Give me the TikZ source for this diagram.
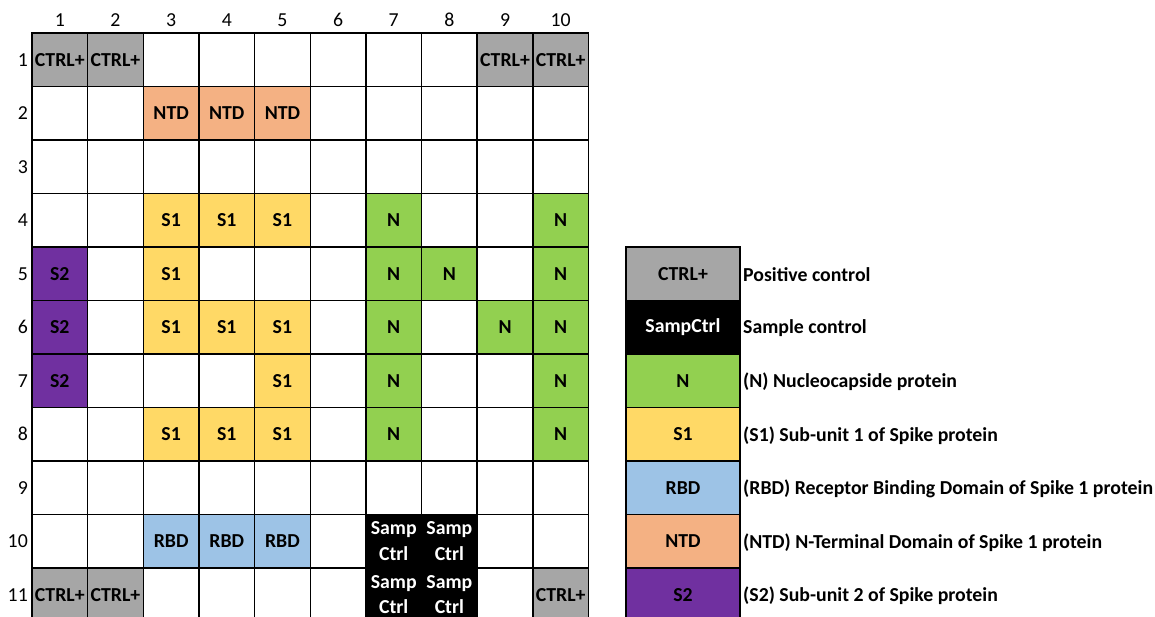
\documentclass[tikz,border=0pt]{standalone}
\usepackage{fontspec}
\setmainfont{Carlito}
\definecolor{ctrlgray}{HTML}{A6A6A6}
\definecolor{ntdc}{HTML}{F4B183}
\definecolor{s1c}{HTML}{FFD966}
\definecolor{nc}{HTML}{92D050}
\definecolor{rbdc}{HTML}{9DC3E6}
\definecolor{s2c}{HTML}{7030A0}
\begin{document}
\begin{tikzpicture}[x=1pt,y=-1pt,
  cellbox/.style={draw=black,line width=1.5pt,minimum width=55.65pt,minimum height=53.5pt,inner sep=0pt,anchor=center,font=\fontsize{19.8}{25.5}\selectfont\bfseries,align=center},
  ctrlcell/.style={cellbox,fill=ctrlgray},
  ntdcell/.style={cellbox,fill=ntdc},
  s1cell/.style={cellbox,fill=s1c},
  ncell/.style={cellbox,fill=nc},
  rbdcell/.style={cellbox,fill=rbdc},
  s2cell/.style={cellbox,fill=s2c},
  sampcell/.style={cellbox,fill=black,text=white},
  legbox/.style={cellbox,minimum width=114pt},
  legtext/.style={anchor=west,inner sep=0pt,font=\fontsize{19.8}{24}\selectfont\bfseries},
  axlabel/.style={inner sep=0pt,font=\fontsize{19.8}{24}\selectfont}
]
\clip (0,0) rectangle (1155,616);
\fill[white] (0,0) rectangle (1155,616);
% axis labels
\foreach \c in {1,...,10}
  \node[axlabel] (col\c) at ({32+55.65*(\c-0.5)},20) {\c};
\foreach \r in {1,...,11}
  \node[axlabel,anchor=east] (row\r) at (28,{33+53.5*(\r-0.5)}) {\r};
% empty grid
\foreach \r in {1,...,11}
  \foreach \c in {1,...,10}
    \node[cellbox] (g-\r-\c) at ({32+55.65*(\c-0.5)},{33+53.5*(\r-0.5)}) {};
% row 1
\node[ctrlcell] (w-1-1) at (g-1-1) {CTRL+};
\node[ctrlcell] (w-1-2) at (g-1-2) {CTRL+};
\node[ctrlcell] (w-1-9) at (g-1-9) {CTRL+};
\node[ctrlcell] (w-1-10) at (g-1-10) {CTRL+};
% row 2
\foreach \c in {3,4,5} \node[ntdcell] (w-2-\c) at (g-2-\c) {NTD};
% row 4
\foreach \c in {3,4,5} \node[s1cell] (w-4-\c) at (g-4-\c) {S1};
\node[ncell] (w-4-7) at (g-4-7) {N};
\node[ncell] (w-4-10) at (g-4-10) {N};
% row 5
\node[s2cell] (w-5-1) at (g-5-1) {S2};
\node[s1cell] (w-5-3) at (g-5-3) {S1};
\node[ncell] (w-5-7) at (g-5-7) {N};
\node[ncell] (w-5-8) at (g-5-8) {N};
\node[ncell] (w-5-10) at (g-5-10) {N};
% row 6
\node[s2cell] (w-6-1) at (g-6-1) {S2};
\foreach \c in {3,4,5} \node[s1cell] (w-6-\c) at (g-6-\c) {S1};
\node[ncell] (w-6-7) at (g-6-7) {N};
\node[ncell] (w-6-9) at (g-6-9) {N};
\node[ncell] (w-6-10) at (g-6-10) {N};
% row 7
\node[s2cell] (w-7-1) at (g-7-1) {S2};
\node[s1cell] (w-7-5) at (g-7-5) {S1};
\node[ncell] (w-7-7) at (g-7-7) {N};
\node[ncell] (w-7-10) at (g-7-10) {N};
% row 8
\foreach \c in {3,4,5} \node[s1cell] (w-8-\c) at (g-8-\c) {S1};
\node[ncell] (w-8-7) at (g-8-7) {N};
\node[ncell] (w-8-10) at (g-8-10) {N};
% row 10
\foreach \c in {3,4,5} \node[rbdcell] (w-10-\c) at (g-10-\c) {RBD};
\node[sampcell] (w-10-7) at (g-10-7) {Samp\\Ctrl};
\node[sampcell] (w-10-8) at (g-10-8) {Samp\\Ctrl};
% row 11
\node[ctrlcell] (w-11-1) at (g-11-1) {CTRL+};
\node[ctrlcell] (w-11-2) at (g-11-2) {CTRL+};
\node[sampcell] (w-11-7) at (g-11-7) {Samp\\Ctrl};
\node[sampcell] (w-11-8) at (g-11-8) {Samp\\Ctrl};
\node[ctrlcell] (w-11-10) at (g-11-10) {CTRL+};
% legend
\node[legbox,fill=ctrlgray] (l1) at (683,{33+53.5*4.5}) {CTRL+};
\node[legbox,fill=black,text=white] (l2) at (683,{33+53.5*5.5}) {SampCtrl};
\node[legbox,fill=nc] (l3) at (683,{33+53.5*6.5}) {N};
\node[legbox,fill=s1c] (l4) at (683,{33+53.5*7.5}) {S1};
\node[legbox,fill=rbdc] (l5) at (683,{33+53.5*8.5}) {RBD};
\node[legbox,fill=ntdc] (l6) at (683,{33+53.5*9.5}) {NTD};
\node[legbox,fill=s2c] (l7) at (683,{33+53.5*10.5}) {S2};
\node[legtext] (t1) at (743,{34+53.5*4.5}) {Positive control};
\node[legtext] (t2) at (743,{34+53.5*5.5}) {Sample control};
\node[legtext] (t3) at (743,{34+53.5*6.5}) {(N) Nucleocapside protein};
\node[legtext] (t4) at (743,{34+53.5*7.5}) {(S1) Sub-unit 1 of Spike protein};
\node[legtext] (t5) at (743,{34+53.5*8.5}) {(RBD) Receptor Binding Domain of Spike 1 protein};
\node[legtext] (t6) at (743,{34+53.5*9.5}) {(NTD) N-Terminal Domain of Spike 1 protein};
\node[legtext] (t7) at (743,{34+53.5*10.5}) {(S2) Sub-unit 2 of Spike protein};
\end{tikzpicture}
\end{document}
